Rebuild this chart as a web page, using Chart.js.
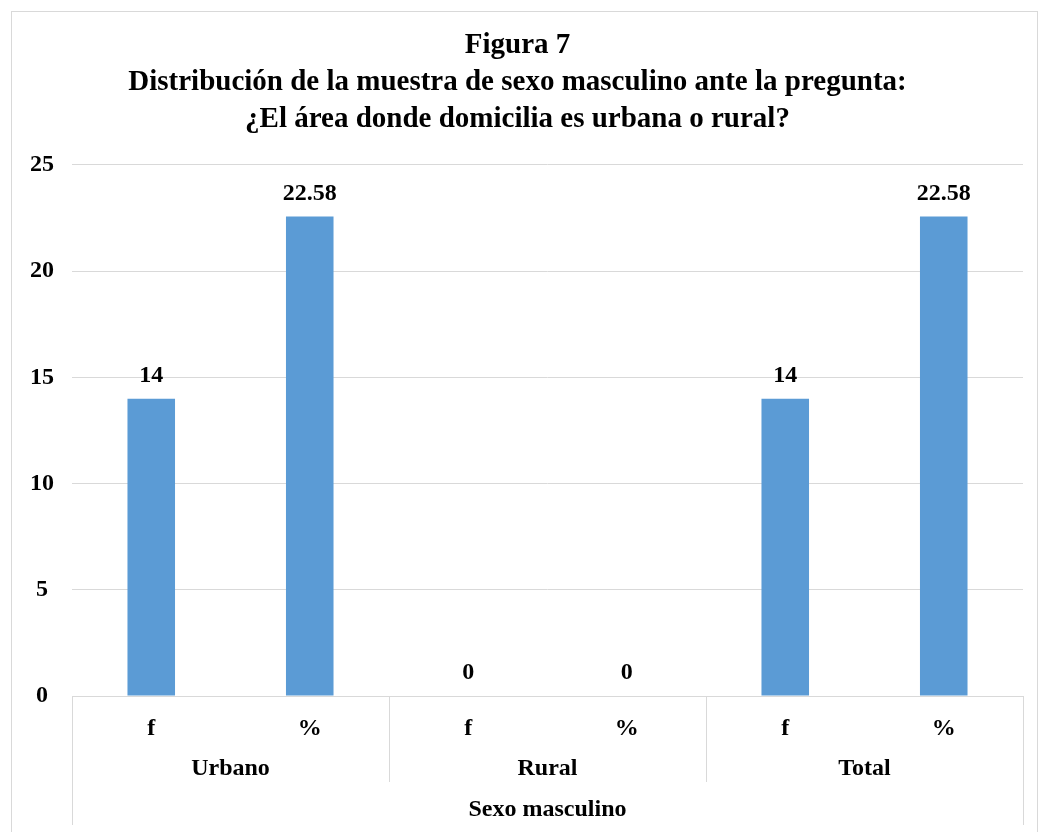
<!DOCTYPE html>
<html>
<head>
<meta charset="utf-8">
<script src="https://cdn.jsdelivr.net/npm/chart.js@4"></script>
<style>
  html, body { margin: 0; padding: 0; background: #fff; }
  #wrap { position: relative; width: 1045px; height: 832px; overflow: hidden; }
  #frame { position: absolute; left: 11px; top: 11px; width: 1027px; height: 840px; border: 1px solid #d9d9d9; box-sizing: border-box; }
  canvas { position: absolute; left: 0; top: 0; }
</style>
</head>
<body>
<div id="wrap">
  <div id="frame"></div>
  <canvas id="chart" width="1045" height="832"></canvas>
</div>
<script>
const titleLines = ['Figura 7', 'Distribución de la muestra de sexo masculino ante la pregunta:', '¿El área donde domicilia es urbana o rural?'];
const subLabels = ['f', '%', 'f', '%', 'f', '%'];
const groups = ['Urbano', 'Rural', 'Total'];
const outerLabel = 'Sexo masculino';
const values = [14, 22.58, 0, 0, 14, 22.58];
const yTicks = [0, 5, 10, 15, 20, 25];

const serif = '"Liberation Serif", "Times New Roman", serif';
const gridColor = '#d9d9d9';

// value labels above each bar
const valueLabels = {
    id: 'valueLabels',
    afterDatasetsDraw(chart) {
        const ctx = chart.ctx;
        const meta = chart.getDatasetMeta(0);
        ctx.save();
        ctx.font = 'bold 24px ' + serif;
        ctx.fillStyle = '#000';
        ctx.textAlign = 'center';
        ctx.textBaseline = 'middle';
        meta.data.forEach((bar, i) => {
            ctx.fillText(String(values[i]), bar.x, bar.y - 23);
        });
        ctx.restore();
    }
};

// grouped category labels and separators under the x axis
const groupAxis = {
    id: 'groupAxis',
    afterDraw(chart) {
        const ctx = chart.ctx;
        const area = chart.chartArea;
        const per = subLabels.length / groups.length;
        const slot = (area.right - area.left) / subLabels.length;
        ctx.save();
        ctx.strokeStyle = gridColor;
        ctx.lineWidth = 1;
        for (let g = 0; g <= groups.length; g++) {
            const gx = Math.round(area.left + g * per * slot) + 0.5;
            const outer = g === 0 || g === groups.length;
            ctx.beginPath();
            ctx.moveTo(gx, area.bottom);
            ctx.lineTo(gx, outer ? 825 : 782);
            ctx.stroke();
        }
        ctx.font = 'bold 24px ' + serif;
        ctx.fillStyle = '#000';
        ctx.textAlign = 'center';
        ctx.textBaseline = 'middle';
        groups.forEach((name, g) => {
            const cx = area.left + (g * per + per / 2) * slot;
            ctx.fillText(name, cx, 769);
        });
        ctx.fillText(outerLabel, (area.left + area.right) / 2, 810);
        ctx.restore();
    }
};

new Chart(document.getElementById('chart'), {
    type: 'bar',
    data: {
        labels: subLabels,
        datasets: [{
            data: values,
            backgroundColor: '#5b9bd5',
            categoryPercentage: 1,
            barPercentage: 0.3
        }]
    },
    options: {
        responsive: false,
        animation: false,
        layout: { padding: { left: 12, right: 22, top: 0, bottom: 0 } },
        plugins: {
            legend: { display: false },
            tooltip: { enabled: false },
            title: {
                display: true,
                text: titleLines,
                color: '#000',
                font: { family: serif, size: 29, weight: 'bold', lineHeight: 1.27 },
                padding: { top: 27, bottom: 27.5 }
            }
        },
        scales: {
            x: {
                grid: { display: false, drawTicks: false },
                border: { display: true, color: gridColor },
                ticks: {
                    color: '#000',
                    font: { family: serif, size: 24, weight: 'bold' },
                    padding: 18,
                    maxRotation: 0
                },
                afterFit(scale) { scale.height = 136; }
            },
            y: {
                min: yTicks[0],
                max: yTicks[yTicks.length - 1],
                afterBuildTicks(scale) { scale.ticks = yTicks.map(v => ({ value: v })); },
                grid: { color: gridColor, drawTicks: false },
                border: { display: false },
                ticks: {
                    color: '#000',
                    font: { family: serif, size: 24, weight: 'bold' },
                    crossAlign: 'center',
                    padding: 18
                },
                afterFit(scale) { scale.width = 60; }
            }
        }
    },
    plugins: [valueLabels, groupAxis]
});
</script>
</body>
</html>
